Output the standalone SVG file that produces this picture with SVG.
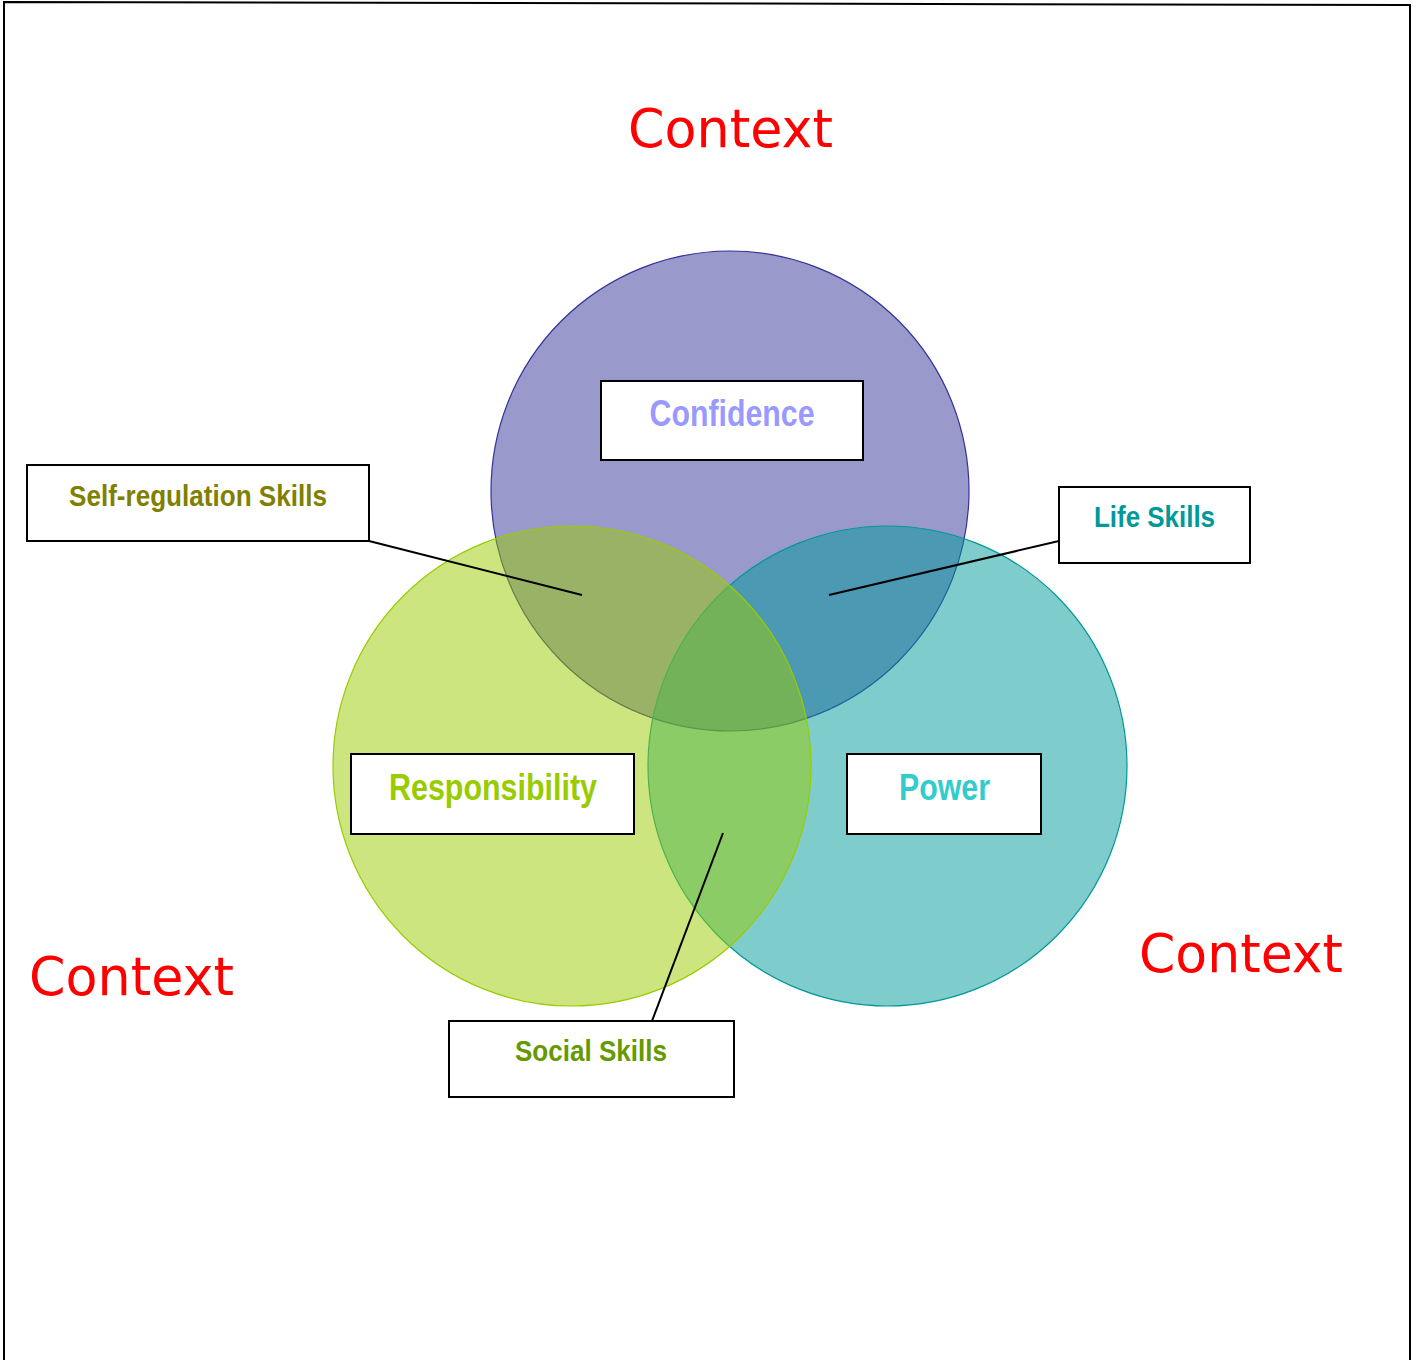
<svg xmlns="http://www.w3.org/2000/svg" width="1419" height="1360" viewBox="0 0 1419 1360">
  <style>
    .frame { fill: none; stroke: #000; stroke-width: 2; }
    .circle { fill-opacity: 0.5; stroke-width: 1.2; }
    .box { fill: #fff; stroke: #000; stroke-width: 2; }
    .lbl { font-family: "Liberation Sans", Arial, sans-serif; font-weight: bold; text-anchor: middle; }
    .ctx { font-family: "Comic Sans MS", "DejaVu Sans", sans-serif; fill: #ff0000; font-size: 54px; }
    .link { stroke: #000; stroke-width: 2; fill: none; }
  </style>
  <rect width="1419" height="1360" fill="#fff"/>
  <!-- page frame (open at the bottom) -->
  <path class="frame" d="M4,1360 L4,2 L1410,5 L1410,1360"/>

  <!-- overlapping circles: purple below, teal middle, green on top -->
  <g id="circle-confidence">
    <ellipse class="circle" cx="730" cy="491" rx="239" ry="240" fill="#333399" stroke="#333399"/>
  </g>
  <g id="circle-power">
    <ellipse class="circle" cx="887.5" cy="766" rx="239.5" ry="240" fill="#009999" stroke="#009999"/>
  </g>
  <g id="circle-responsibility">
    <ellipse class="circle" cx="572" cy="766" rx="239" ry="240" fill="#99cc00" stroke="#99cc00"/>
  </g>

  <!-- leader lines -->
  <g id="connectors">
    <line class="link" x1="369" y1="541" x2="582" y2="595"/>
    <line class="link" x1="1059" y1="541" x2="829" y2="595"/>
    <line class="link" x1="723" y1="833" x2="652" y2="1021"/>
  </g>

  <g id="confidence">
    <rect class="box" x="601" y="381" width="262" height="79"/>
    <text class="lbl" x="732" y="426" font-size="36" fill="#9999ff" textLength="165" lengthAdjust="spacingAndGlyphs">Confidence</text>
  </g>
  <g id="self-regulation">
    <rect class="box" x="27" y="465" width="342" height="76"/>
    <text class="lbl" x="198" y="506" font-size="30" fill="#808000" textLength="258" lengthAdjust="spacingAndGlyphs">Self-regulation Skills</text>
  </g>
  <g id="life-skills">
    <rect class="box" x="1059" y="487" width="191" height="76"/>
    <text class="lbl" x="1154.5" y="527" font-size="30" fill="#009999" textLength="121" lengthAdjust="spacingAndGlyphs">Life Skills</text>
  </g>
  <g id="responsibility">
    <rect class="box" x="351" y="754" width="283" height="80"/>
    <text class="lbl" x="493" y="800" font-size="36" fill="#99cc00" textLength="208" lengthAdjust="spacingAndGlyphs">Responsibility</text>
  </g>
  <g id="power">
    <rect class="box" x="847" y="754" width="194" height="80"/>
    <text class="lbl" x="944.5" y="800" font-size="36" fill="#33cccc" textLength="91" lengthAdjust="spacingAndGlyphs">Power</text>
  </g>
  <g id="social-skills">
    <rect class="box" x="449" y="1021" width="285" height="76"/>
    <text class="lbl" x="591" y="1061" font-size="30" fill="#669900" textLength="152" lengthAdjust="spacingAndGlyphs">Social Skills</text>
  </g>

  <!-- surrounding context labels -->
  <g id="context-top">
    <text class="ctx" x="628" y="147" textLength="205" lengthAdjust="spacingAndGlyphs">Context</text>
  </g>
  <g id="context-left">
    <text class="ctx" x="29" y="995" textLength="205" lengthAdjust="spacingAndGlyphs">Context</text>
  </g>
  <g id="context-right">
    <text class="ctx" x="1139" y="972" textLength="204" lengthAdjust="spacingAndGlyphs">Context</text>
  </g>
</svg>
